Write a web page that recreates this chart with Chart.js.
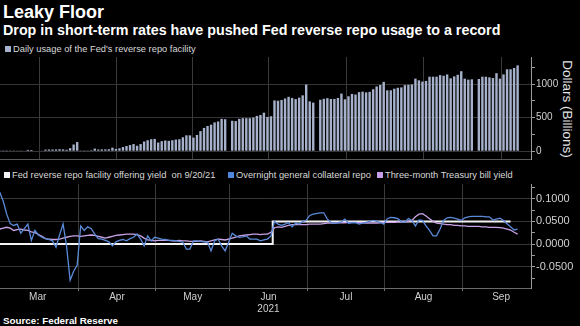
<!DOCTYPE html>
<html>
<head>
<meta charset="utf-8">
<script src="https://cdn.jsdelivr.net/npm/chart.js@4.4.1/dist/chart.umd.min.js"></script>
<style>
  html, body { margin: 0; padding: 0; background: #000; }
  body {
    position: relative;
    width: 580px;
    height: 326px;
    overflow: hidden;
    font-family: "Liberation Sans", Arial, sans-serif;
    color: #fff;
  }
  .txt { position: absolute; white-space: nowrap; }
  #title { left: 3px; top: 3px; font-size: 18px; line-height: 18px; font-weight: bold; }
  #subtitle { left: 3px; top: 22.5px; font-size: 14.3px; line-height: 14.3px; font-weight: bold; }
  .legend { font-size: 9.3px; line-height: 9.3px; color: #d8d8d8; }
  .swatch { position: absolute; width: 6px; height: 6px; }
  #axisTitle {
    left: 567px; top: 109px; font-size: 13.5px; line-height: 13.5px; color: #e6e6e6;
    transform: translate(-50%, -50%) rotate(90deg);
  }
  #source { left: 3px; top: 316px; font-size: 9.8px; line-height: 9.8px; font-weight: bold; }
  .wrap { position: absolute; left: 0; width: 580px; }
  #usageWrap { top: 50px; height: 116px; }
  #ratesWrap { top: 165px; height: 150px; }
</style>
</head>
<body>
<div id="title" class="txt">Leaky Floor</div>
<div id="subtitle" class="txt">Drop in short-term rates have pushed Fed reverse repo usage to a record</div>

<div class="swatch" style="left:5px; top:46px; background:#a6b1cb;"></div>
<div class="txt legend" style="left:13px; top:44.5px;">Daily usage of the Fed's reverse repo facility</div>

<div class="swatch" style="left:4px; top:172px; background:#f2f2f2;"></div>
<div class="txt legend" style="left:12px; top:170.5px;">Fed reverse repo facility offering yield&nbsp; on 9/20/21</div>
<div class="swatch" style="left:228px; top:172px; background:#4f86d9;"></div>
<div class="txt legend" style="left:236px; top:170.5px;">Overnight general collateral repo</div>
<div class="swatch" style="left:377px; top:172px; background:#c79ee8;"></div>
<div class="txt legend" style="left:385px; top:170.5px;">Three-month Treasury bill yield</div>

<div id="axisTitle" class="txt">Dollars (Billions)</div>
<div id="source" class="txt">Source: Federal Reserve</div>

<div id="usageWrap" class="wrap"><canvas id="usageChart"></canvas></div>
<div id="ratesWrap" class="wrap"><canvas id="ratesChart"></canvas></div>

<script>
// Business-day series, one value per weekday starting 2021-03-01 (null = holiday)
const FIRST_DAY = "2021-03-01";

// Daily usage of the Fed's reverse repo facility, $ billions
const USAGE = [
  3, 2, 2, 4, 3, 5, 4, 6, 20, 18, 8, 7, 9, 24, 26, 25, 27, 30, 28, 22, 45, 100, 137,          // Mar
  3, 2, 3, 15, 39, 25, 28, 28, 30, 53, 34, 43, 63, 78, 92, 107, 82, 107, 145, 164, 179, 184,  // Apr
  130, 150, 160, 155, 164, 174, 179, 208, 237, 237, 203, 242, 300, 348, 377, 396, 430, 444, 483, 478, null, // May
  454, 450, 483, 493, 493, 493, 502, 527, 541, 575, 512, 522, 758, 754, 764, 787, 812, 795, 778, 800, 834, 995, // Jun
  744, 725, null, 768, 783, 792, 780, 780, 795, 860, 775, 820, 855, 846, 882, 889, 878, 886, 925, 967, 988, 1035, // Jul
  909, 909, 933, 947, 952, 986, 991, 996, 1083, 1058, 1039, 1049, 1112, 1112, 1112, 1136, 1126, 1146, 1088, 1117, 1141, 1194, // Aug
  1083, 1068, 1073, null, 1078, 1112, 1112, 1102, 1092, 1165, 1083, 1146, 1223, 1223, 1242, 1281 // Sep
];

// Overnight general collateral repo, %
const GC_REPO = [
  0.115, 0.095, 0.066, 0.045, 0.041, 0.044, 0.024, 0.034, 0.044, 0.008, 0.030, 0.020, 0.015, 0.012, 0.010, 0.007, -0.007, 0.020, 0.044, -0.005, -0.080, -0.060, -0.047,
  0.040, 0.030, 0.038, 0.034, 0.022, 0.012, 0.011, 0.008, 0.005, -0.004, 0.005, 0.008, 0.010, 0.007, 0.012, 0.015, 0.022, 0.011, -0.004, 0.018, 0.007, 0.015,
  0.013, 0.011, 0.010, 0.008, 0.008, 0.007, 0.006, 0.004, -0.011, -0.011, 0.007, 0.007, 0.006, 0.005, 0.004, -0.015, 0.007, 0.011, -0.004, -0.015, null,
  0.024, 0.018, 0.015, 0.016, 0.018, 0.011, 0.011, 0.011, 0.007, 0.009, 0.011, 0.018, 0.050, 0.044, 0.041, 0.044, 0.047, 0.038, 0.046, 0.044, 0.050, 0.052,
  0.063, 0.066, null, 0.069, 0.069, 0.055, 0.048, 0.046, 0.047, 0.049, 0.055, 0.046, 0.047, 0.047, 0.044, 0.046, 0.048, 0.050, 0.052, 0.050, 0.048, 0.044,
  0.056, 0.059, 0.058, 0.056, 0.049, 0.048, 0.056, 0.052, 0.040, 0.053, 0.052, 0.040, 0.030, 0.018, 0.018, 0.033, 0.052, 0.058, 0.059, 0.057, 0.055, 0.052,
  0.058, 0.060, 0.061, null, 0.061, 0.061, 0.060, 0.060, 0.053, 0.055, 0.057, 0.052, 0.045, 0.038, 0.031, 0.033
];

// Three-month Treasury bill yield, %
const TBILL = [
  0.033, 0.035, 0.037, 0.035, 0.030, 0.032, 0.033, 0.031, 0.030, 0.027, 0.025, 0.021, 0.017, 0.012, 0.011, 0.010, 0.010, 0.011, 0.013, 0.015, 0.017, 0.018, 0.018,
  0.017, 0.018, 0.019, 0.020, 0.019, 0.017, 0.015, 0.013, 0.015, 0.017, 0.019, 0.020, 0.021, 0.022, 0.022, 0.022, 0.021, 0.018, 0.013, 0.009, 0.008, 0.007,
  0.008, 0.008, 0.008, 0.008, 0.007, 0.007, 0.008, 0.007, 0.007, 0.006, 0.006, 0.006, 0.007, 0.006, 0.005, 0.007, 0.009, 0.011, 0.010, 0.009, null,
  0.013, 0.015, 0.018, 0.019, 0.020, 0.021, 0.022, 0.022, 0.021, 0.022, 0.022, 0.026, 0.036, 0.038, 0.037, 0.039, 0.041, 0.043, 0.043, 0.043, 0.043, 0.043,
  0.044, 0.044, null, 0.044, 0.045, 0.046, 0.046, 0.046, 0.047, 0.047, 0.047, 0.048, 0.048, 0.048, 0.047, 0.047, 0.046, 0.046, 0.046, 0.046, 0.047, 0.048,
  0.048, 0.048, 0.048, 0.049, 0.049, 0.049, 0.050, 0.052, 0.060, 0.066, 0.067, 0.062, 0.056, 0.050, 0.046, 0.045, 0.044, 0.043, 0.043, 0.041, 0.041, 0.040,
  0.040, 0.039, 0.039, null, 0.039, 0.038, 0.038, 0.037, 0.037, 0.037, 0.036, 0.035, 0.033, 0.031, 0.026, 0.022
];

// Fed reverse repo offering rate, % (value holds until the next date)
const RRP_RATE_DATES = ["2021-03-01", "2021-06-16", "2021-06-17", "2021-09-20"];
const RRP_RATE_VALUES = [0, 0, 0.05, 0.05];

// Month axis
const MONTH_LABELS = ["Mar", "Apr", "May", "Jun", "Jul", "Aug", "Sep"];
const MONTH_ENDS = ["2021-02-26", "2021-03-31", "2021-04-30", "2021-05-31", "2021-06-30", "2021-07-30", "2021-08-31", "2021-09-30"];
const YEAR_LABEL = "2021";
const YEAR_UNDER = "Jun";

const USAGE_TICKS = [0, 250, 500, 750, 1000, 1250];
const RATE_TICKS = [-0.075, -0.05, -0.025, 0, 0.025, 0.05, 0.075, 0.1, 0.125];

// Colours / layout
const BAR_COLOR = "#a6b1cb";
const GC_COLOR = "#5a8ad8";
const TBILL_COLOR = "#c9a3e6";
const RRP_COLOR = "#f2f2f2";
const TEXT = "#d0d0d0";
const AXIS = "#9a9a9a";
const HGRID = "#363636";
const VGRID = "#3a3a3a";
const X_MIN = 0.1;
const X_MAX = 150.8;
const TICK_SHIFT = 0.3;
const AXIS_WIDTH = 49;

Chart.defaults.font.family = '"Liberation Sans", Arial, sans-serif';
Chart.defaults.color = TEXT;

function dayIndex(iso) {
  // number of weekdays between FIRST_DAY and iso (negative if before)
  const start = new Date(FIRST_DAY + "T00:00:00Z");
  const end = new Date(iso + "T00:00:00Z");
  const sign = end >= start ? 1 : -1;
  const a = sign > 0 ? start : end;
  const b = sign > 0 ? end : start;
  let n = 0;
  const t = new Date(a);
  while (t < b) {
    const wd = t.getUTCDay();
    if (wd !== 0 && wd !== 6) n++;
    t.setUTCDate(t.getUTCDate() + 1);
  }
  return sign * n;
}

function toPoints(values) {
  return values.map((v, i) => ({ x: i, y: v }));
}

function monthTicks(withLabels) {
  const ends = MONTH_ENDS.map((d) => dayIndex(d) + TICK_SHIFT);
  const ticks = ends
    .filter((v) => v >= X_MIN && v <= X_MAX)
    .map((v) => ({ value: v, edge: true, name: "" }));
  if (withLabels) {
    MONTH_LABELS.forEach((m, k) => {
      const name = m === YEAR_UNDER ? [m, YEAR_LABEL] : m;
      ticks.push({ value: (ends[k] + ends[k + 1]) / 2, edge: false, name });
    });
  }
  return ticks.sort((p, q) => p.value - q.value);
}

function isLabelled(v, every) {
  return Math.round(v * 1000) % Math.round(every * 1000) === 0;
}

function rightAxis(min, max, tickValues, labelEvery, format, fontSize) {
  return {
    position: "right",
    min,
    max,
    afterBuildTicks: (scale) => {
      scale.ticks = tickValues.map((v) => ({ value: v }));
    },
    afterFit: (scale) => {
      scale.width = AXIS_WIDTH;
    },
    ticks: {
      autoSkip: false,
      color: TEXT,
      padding: 1,
      font: { size: fontSize },
      callback: (v) => (isLabelled(v, labelEvery) ? format(v) : "")
    },
    grid: {
      tickLength: 4,
      tickColor: AXIS,
      color: (ctx) => (ctx.tick && isLabelled(ctx.tick.value, labelEvery) ? HGRID : "rgba(0,0,0,0)")
    },
    border: { color: AXIS, width: 1 }
  };
}

const usageChart = new Chart(document.getElementById("usageChart"), {
  type: "bar",
  data: {
    datasets: [
      {
        label: "Daily usage of the Fed's reverse repo facility",
        data: toPoints(USAGE),
        backgroundColor: BAR_COLOR,
        barPercentage: 0.68,
        categoryPercentage: 1
      }
    ]
  },
  options: {
    responsive: true,
    maintainAspectRatio: false,
    animation: false,
    layout: { padding: { top: 7, bottom: 4, left: 0, right: 0 } },
    plugins: { legend: { display: false }, tooltip: { enabled: false } },
    scales: {
      x: {
        type: "linear",
        min: X_MIN,
        max: X_MAX,
        offset: false,
        afterBuildTicks: (scale) => {
          scale.ticks = monthTicks(false);
        },
        afterFit: (scale) => {
          scale.height = 0;
        },
        ticks: { display: false },
        grid: { color: VGRID, drawTicks: false },
        border: { color: "#5a5a5a" }
      },
      y: rightAxis(-116, 1406, USAGE_TICKS, 500, (v) => String(v), 10)
    }
  }
});

const ratesChart = new Chart(document.getElementById("ratesChart"), {
  type: "line",
  data: {
    datasets: [
      {
        label: "Overnight general collateral repo",
        data: toPoints(GC_REPO),
        borderColor: GC_COLOR,
        borderWidth: 1.3,
        pointRadius: 0,
        spanGaps: true,
        tension: 0
      },
      {
        label: "Three-month Treasury bill yield",
        data: toPoints(TBILL),
        borderColor: TBILL_COLOR,
        borderWidth: 1.3,
        pointRadius: 0,
        spanGaps: true,
        tension: 0
      },
      {
        label: "Fed reverse repo facility offering yield on 9/20/21",
        data: RRP_RATE_DATES.map((d, k) => ({ x: dayIndex(d), y: RRP_RATE_VALUES[k] })),
        borderColor: RRP_COLOR,
        borderWidth: 2,
        pointRadius: 0,
        stepped: "middle"
      }
    ]
  },
  options: {
    responsive: true,
    maintainAspectRatio: false,
    animation: false,
    layout: { padding: { top: 19, bottom: 0, left: 0, right: 0 } },
    plugins: { legend: { display: false }, tooltip: { enabled: false } },
    scales: {
      x: {
        type: "linear",
        min: X_MIN,
        max: X_MAX,
        offset: false,
        afterBuildTicks: (scale) => {
          scale.ticks = monthTicks(true);
        },
        afterFit: (scale) => {
          scale.height = 27;
        },
        ticks: {
          autoSkip: false,
          maxRotation: 0,
          padding: 0,
          color: TEXT,
          font: { size: 10, lineHeight: 1.2 },
          callback: (v, i, ticks) => ticks[i].name
        },
        grid: {
          tickLength: 3,
          color: (ctx) => (ctx.tick && ctx.tick.edge ? VGRID : "rgba(0,0,0,0)"),
          tickColor: (ctx) => (ctx.tick && ctx.tick.edge ? "#777" : "rgba(0,0,0,0)")
        },
        border: { color: "#6a6a6a" }
      },
      y: rightAxis(-0.097, 0.1325, RATE_TICKS, 0.05, (v) => v.toFixed(4), 11)
    }
  }
});
</script>
</body>
</html>
